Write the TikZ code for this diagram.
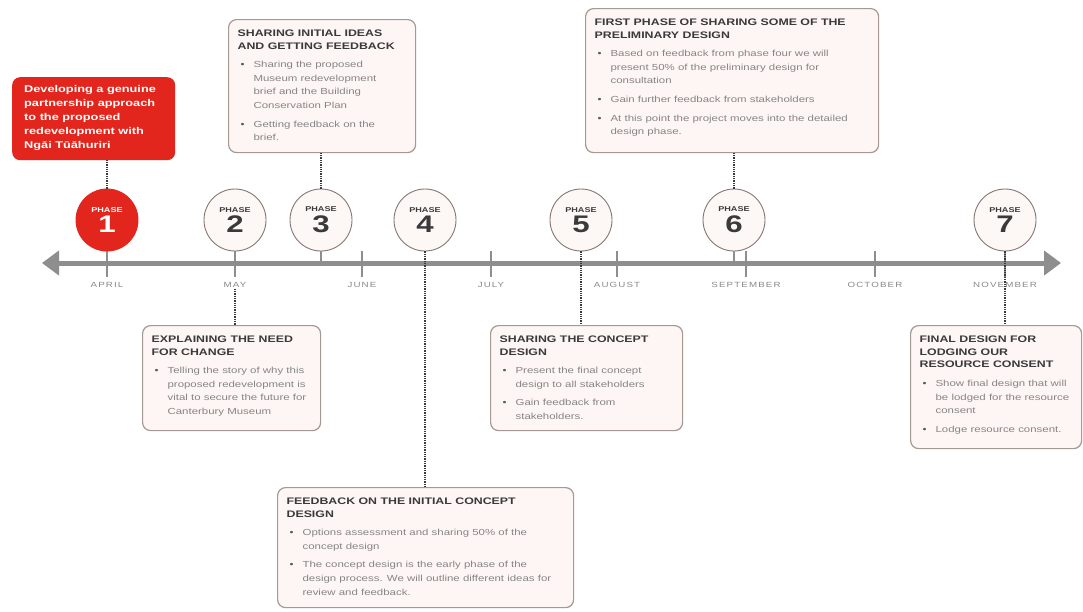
\documentclass[tikz,border=0pt]{standalone}
\usepackage{fontspec}
\setmainfont{Liberation Sans}[FakeStretch=1.3]
\newfontfamily\monthfont{Liberation Sans}[FakeStretch=1.3,LetterSpace=15]
\usetikzlibrary{arrows.meta}
\definecolor{axisc}{HTML}{8E8E8E}
\definecolor{titlec}{HTML}{3A3A3A}
\definecolor{bodyc}{HTML}{858585}
\definecolor{bulc}{HTML}{5A5A5A}
\definecolor{boxfill}{HTML}{FDF6F4}
\definecolor{boxdraw}{HTML}{A69893}
\definecolor{redc}{HTML}{E2261D}
\definecolor{monthc}{HTML}{8A8A8A}
\definecolor{circd}{HTML}{857772}
\definecolor{circf}{HTML}{FDF8F6}
\newcommand\ttl[1]{{\fontsize{9.5}{12.8}\selectfont\bfseries\color{titlec}#1\par}}
\newcommand\bitem[1]{\par\vspace{5pt}{\fontsize{8.8}{13.6}\selectfont\color{bodyc}\let\\\newline\hangindent=16pt\hangafter=1\noindent\hbox to 16pt{\hspace{3pt}\textcolor{bulc}{\textbullet}\hfil}#1\par}}
\newcommand\bxc[3]{\begin{minipage}[c][#2pt][t]{#1pt}\raggedright #3\end{minipage}}
\newcommand\phasetxt[1]{\vbox{\offinterlineskip\halign{\hfil##\hfil\cr\fontsize{7}{7}\selectfont\bfseries PHASE\cr\noalign{\vskip4pt}\fontsize{24}{24}\selectfont\bfseries #1\cr}}}
\begin{document}
\begin{tikzpicture}[x=1pt,y=-1pt,
  box/.style={draw=boxdraw,fill=boxfill,line width=1.2pt,rounded corners=8pt,anchor=north west,inner xsep=9pt,inner ysep=10pt},
  redbox/.style={fill=redc,rounded corners=8pt,anchor=north west,inner xsep=12pt,inner ysep=8pt,text=white},
  phase/.style={circle,draw=circd,fill=circf,line width=0.9pt,minimum size=62pt,inner sep=0pt,text=titlec},
  phaseone/.style={phase,draw=redc,fill=redc,text=white},
  month/.style={font=\monthfont\fontsize{7.5}{8}\selectfont,text=monthc,inner sep=1pt},
  axis/.style={draw=axisc,line width=5pt,{Triangle[length=17pt,width=24pt]}-{Triangle[length=17pt,width=24pt]}},
  tickl/.style={draw=axisc,line width=1.6pt},
  conn/.style={draw=titlec,line width=1.3pt,densely dotted},
  stub/.style={draw=axisc,line width=1.6pt}
]
\fill[white] (0,0) rectangle (1083,611);
\useasboundingbox (0,0) rectangle (1083,611);

% axis
\coordinate (axL) at (42,263);
\coordinate (axR) at (1061,263);
\draw[axis] (axL) -- (axR);

% months
\foreach \x/\n/\t in {107/m1/APRIL,235/m2/MAY,362/m3/JUNE,491/m4/JULY,617/m5/AUGUST,746/m6/SEPTEMBER,875/m7/OCTOBER,1005/m8/NOVEMBER}{
  \draw[tickl] (\x,251) -- (\x,277);
  \node[month] (\n) at (\x,285) {\t};
}

% phase circles
\node[phaseone] (c1) at (107,220) {\phasetxt{1}};
\node[phase] (c2) at (235,220) {\phasetxt{2}};
\node[phase] (c3) at (321,220) {\phasetxt{3}};
\node[phase] (c4) at (425,220) {\phasetxt{4}};
\node[phase] (c5) at (581,220) {\phasetxt{5}};
\node[phase] (c6) at (734,220) {\phasetxt{6}};
\node[phase] (c7) at (1005,220) {\phasetxt{7}};

% boxes
\node[redbox] (b1) at (12,77) {\bxc{139}{67}{\fontsize{9.8}{14}\selectfont\bfseries Developing a genuine\\partnership approach\\to the proposed\\redevelopment with\\Ngāi Tūāhuriri}};

\node[box] (b3) at (228,19) {\bxc{169}{113}{\ttl{SHARING INITIAL IDEAS\\AND GETTING FEEDBACK}%
\bitem{Sharing the proposed\\Museum redevelopment\\brief and the Building\\Conservation Plan}%
\bitem{Getting feedback on the\\brief.}}};

\node[box] (b6) at (585,8) {\bxc{275}{124}{\ttl{FIRST PHASE OF SHARING SOME OF THE\\PRELIMINARY DESIGN}%
\bitem{Based on feedback from phase four we will\\present 50\% of the preliminary design for\\consultation}%
\bitem{Gain further feedback from stakeholders}%
\bitem{At this point the project moves into the detailed\\design phase.}}};

\node[box] (b2) at (142,325) {\bxc{160}{85}{\ttl{EXPLAINING THE NEED\\FOR CHANGE}%
\bitem{Telling the story of why this\\proposed redevelopment is\\vital to secure the future for\\Canterbury Museum}}};

\node[box] (b5) at (490,325) {\bxc{174}{85}{\ttl{SHARING THE CONCEPT\\DESIGN}%
\bitem{Present the final concept\\design to all stakeholders}%
\bitem{Gain feedback from\\stakeholders.}}};

\node[box] (b7) at (910,325) {\bxc{153}{103}{\ttl{FINAL DESIGN FOR\\LODGING OUR\\RESOURCE CONSENT}%
\bitem{Show final design that will\\be lodged for the resource\\consent}%
\bitem{Lodge resource consent.}}};

\node[box] (b4) at (277,487) {\bxc{278}{100}{\ttl{FEEDBACK ON THE INITIAL CONCEPT\\DESIGN}%
\bitem{Options assessment and sharing 50\% of the\\concept design}%
\bitem{The concept design is the early phase of the\\design process. We will outline different ideas for\\review and feedback.}}};

% connectors
\draw[conn] (c1.north) -- (c1.north |- b1.south);
\draw[conn] (c3.north) -- (c3.north |- b3.south);
\draw[stub] (c3.south) -- (c3.south |- axL);
\draw[conn] (c6.north) -- (c6.north |- b6.south);
\draw[stub] (c6.south) -- (c6.south |- axL);
\draw[conn] (m2.south) -- (m2.south |- b2.north);
\draw[conn] (c4.south) -- (c4.south |- b4.north);
\draw[conn] (c5.south) -- (c5.south |- b5.north);
\draw[conn] (c7.south) -- (c7.south |- b7.north);
\end{tikzpicture}
\end{document}
